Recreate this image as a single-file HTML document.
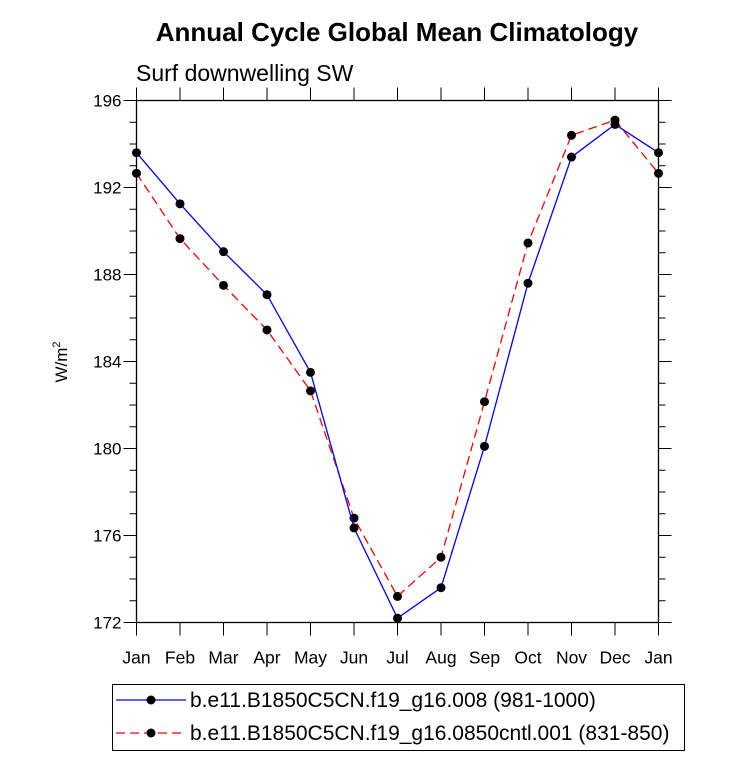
<!DOCTYPE html>
<html><head><meta charset="utf-8"><style>body{margin:0;background:#fff}svg{display:block;font-family:"Liberation Sans",sans-serif}</style></head>
<body>
<svg id="c" width="733" height="774">
<text x="397" y="41" text-anchor="middle" font-size="26" font-weight="bold">Annual Cycle Global Mean Climatology</text>
<text x="136" y="81" font-size="23">Surf downwelling SW</text>
<text transform="translate(67,362) rotate(-90)" text-anchor="middle" font-size="17">W/m<tspan dy="-7" font-size="11">2</tspan></text>
<g id="axes"></g><g id="series"></g>
<g>
<rect x="112.5" y="684.5" width="572" height="66" fill="none" stroke="#000"/>
<g><line x1="116" y1="700" x2="186" y2="700" stroke="#00f" stroke-width="1.3"/><circle cx="151" cy="700" r="4.5"/><text x="190" y="707" font-size="21">b.e11.B1850C5CN.f19_g16.008 (981-1000)</text></g>
<g><line x1="116" y1="733" x2="186" y2="733" stroke="#f00" stroke-width="1.3" stroke-dasharray="9,5"/><circle cx="151" cy="733" r="4.5"/><text x="190" y="740" font-size="21">b.e11.B1850C5CN.f19_g16.0850cntl.001 (831-850)</text></g>
</g>
</svg>
<script>
const months=["Jan","Feb","Mar","Apr","May","Jun","Jul","Aug","Sep","Oct","Nov","Dec","Jan"];
const blueVals=[193.6,191.25,189.05,187.07,183.5,176.35,172.2,173.6,180.1,187.6,193.4,194.9,193.6];
const redVals=[192.65,189.65,187.5,185.45,182.65,176.8,173.2,175.0,182.15,189.45,194.4,195.1,192.65];
const yTicks=[172,176,180,184,188,192,196];
const L=136.5,R=658.5,T=100.5,B=622.5,ymin=172,ymax=196;
const xs=i=>L+i*(R-L)/12, ys=v=>B-(v-ymin)/(ymax-ymin)*(B-T);
const NS="http://www.w3.org/2000/svg";
function mk(t,a,p){const e=document.createElementNS(NS,t);for(const k in a)e.setAttribute(k,a[k]);p.appendChild(e);return e;}
const ax=document.getElementById('axes'),se=document.getElementById('series');
const fr=mk('rect',{x:L,y:T,width:R-L,height:B-T,fill:'none',stroke:'#000','stroke-width':1.3},ax);


for(let v=ymin;v<=ymax;v++){const maj=(v-ymin)%4===0,len=maj?13:7,y=ys(v);
mk('line',{x1:L-len,x2:L,y1:y,y2:y,stroke:'#000'},ax);mk('line',{x1:R,x2:R+len,y1:y,y2:y,stroke:'#000'},ax);}
yTicks.forEach(v=>{const t=mk('text',{x:L-15,y:ys(v)+6,'text-anchor':'end','font-size':17},ax);t.textContent=v;

});
months.forEach((m,i)=>{const x=xs(i);mk('line',{x1:x,x2:x,y1:B,y2:B+13,stroke:'#000'},ax);mk('line',{x1:x,x2:x,y1:T-13,y2:T,stroke:'#000'},ax);
const t=mk('text',{x:x,y:B+41,'text-anchor':'middle','font-size':17.5},ax);t.textContent=m;

});
function draw(vals,col,dash,name){const p=mk('polyline',{points:vals.map((v,i)=>xs(i)+','+ys(v)).join(' '),fill:'none',stroke:col,'stroke-width':1.3,'stroke-dasharray':dash},se);


vals.forEach((v,i)=>{const c=mk('circle',{cx:xs(i),cy:ys(v),r:4.5},se);

});}
draw(redVals,'#f00','9,5','series-cntl');
draw(blueVals,'#00f','none','series-008');
</script>
</body></html>
